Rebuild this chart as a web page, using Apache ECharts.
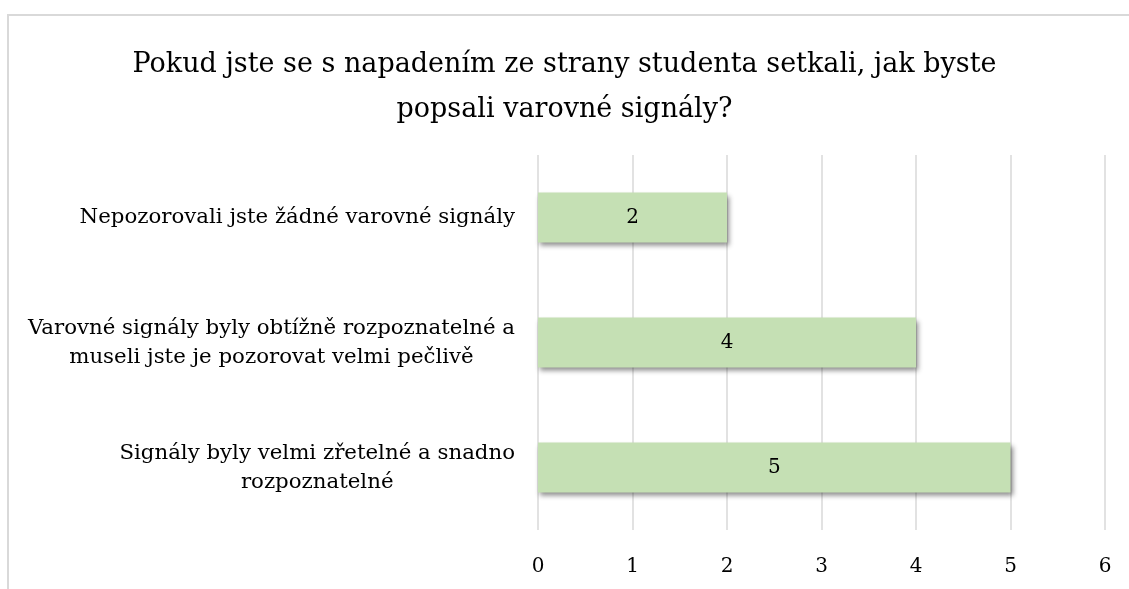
<!DOCTYPE html>
<html>
<head>
<meta charset="utf-8">
<script src="https://cdn.jsdelivr.net/npm/echarts@6/dist/echarts.min.js"></script>
<style>
  html, body { margin: 0; padding: 0; background: #fff; }
  #frame { position: absolute; left: 7px; top: 14px; width: 1130px; height: 580px;
           border-top: 2px solid #d9d9d9; border-left: 2px solid #d9d9d9; }
  #chart { position: absolute; left: 0; top: 0; width: 1129px; height: 589px; }
</style>
</head>
<body>
<div id="frame"></div>
<div id="chart"></div>
<script>
// kategorie shora dolů
const categories = [
    'Nepozorovali jste žádné varovné signály',
    'Varovné signály byly obtížně rozpoznatelné a\nmuseli jste je pozorovat velmi pečlivě',
    'Signály byly velmi zřetelné a snadno\nrozpoznatelné'
]
const values = [2, 4, 5]
const axisTicks = [0, 1, 2, 3, 4, 5, 6]

const serif = '"DejaVu Serif", "Liberation Serif", serif'

const chart = echarts.init(document.getElementById('chart'))
chart.setOption({
    animation: false,
    title: {
        text: 'Pokud jste se s napadením ze strany studenta setkali, jak byste\npopsali varovné signály?',
        left: 'center',
        top: 37,
        textStyle: {
            fontFamily: serif,
            fontWeight: 'normal',
            fontSize: 27,
            lineHeight: 45,
            color: '#000'
        }
    },
    grid: {
        left: 538,
        right: 24,
        top: 155,
        bottom: 59
    },
    xAxis: {
        type: 'value',
        min: axisTicks[0],
        max: axisTicks[axisTicks.length - 1],
        interval: 1,
        axisLine: { show: false },
        axisTick: { show: false },
        axisLabel: {
            margin: 27,
            fontFamily: serif,
            fontSize: 20,
            color: '#000'
        },
        splitLine: {
            lineStyle: { color: '#d9d9d9', width: 1.5 }
        }
    },
    yAxis: {
        type: 'category',
        inverse: true,
        data: categories,
        axisLine: { show: false },
        axisTick: { show: false },
        axisLabel: {
            margin: 23,
            formatter: v => v.split('\n').map(l => '{c|' + l + '}').join('\n'),
            rich: {
                c: {
                    align: 'center',
                    fontFamily: serif,
                    fontSize: 21.3,
                    lineHeight: 29,
                    color: '#000'
                }
            }
        }
    },
    series: [
        {
            type: 'bar',
            data: values,
            barWidth: 50,
            itemStyle: {
                color: '#c5e0b4',
                shadowColor: 'rgba(0,0,0,0.45)',
                shadowBlur: 5,
                shadowOffsetX: 2,
                shadowOffsetY: 3
            },
            label: {
                show: true,
                position: 'inside',
                fontFamily: serif,
                fontSize: 20,
                color: '#000'
            }
        }
    ]
})
</script>
</body>
</html>
